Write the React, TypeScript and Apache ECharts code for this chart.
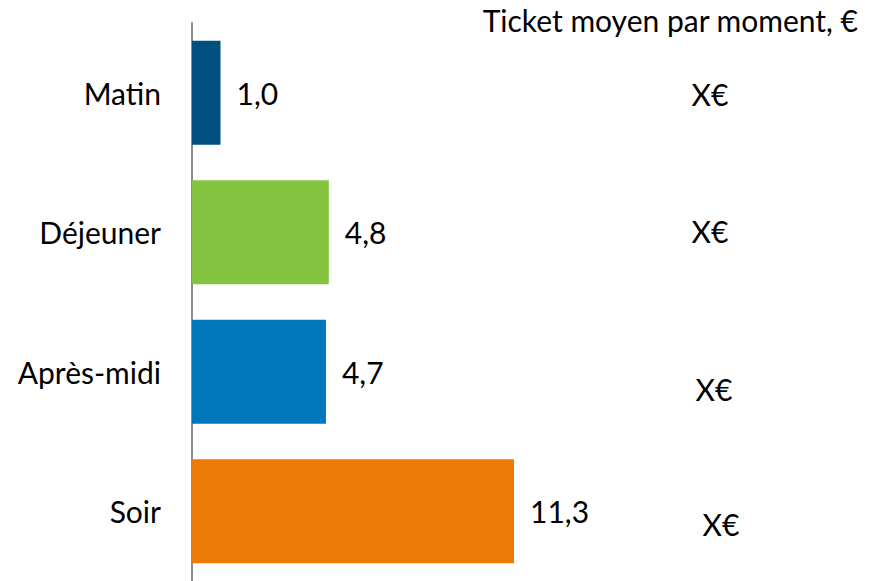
import React, { useEffect, useRef } from "react";
import * as echarts from "echarts";

const categories = ["Matin", "Déjeuner", "Après-midi", "Soir"];
const values = [1.0, 4.8, 4.7, 11.3];
const barColors = ["#00507F", "#85C440", "#0077BC", "#EC7A08"];
const ticketTitle = "Ticket moyen par moment, €";
const ticketLabels = ["X€", "X€", "X€", "X€"];

const FONT = "Lato, 'Open Sans', sans-serif";
const FS = 30;

export default function App() {
  const ref = useRef<HTMLDivElement>(null);
  useEffect(() => {
    if (!ref.current) return;
    const chart = echarts.init(ref.current, undefined, { renderer: "svg" });
    const ticketPos = [
      { x: 710, y: 94 },
      { x: 710, y: 231 },
      { x: 714, y: 389 },
      { x: 721, y: 524 },
    ];
    chart.setOption({
      animation: false,
      backgroundColor: "#ffffff",
      textStyle: { fontFamily: FONT },
      grid: { left: 192, width: 570, top: 23, height: 562, containLabel: false },
      xAxis: {
        type: "value",
        min: 0,
        max: 20,
        show: false,
      },
      yAxis: {
        type: "category",
        data: categories,
        inverse: true,
        axisLine: { show: true, lineStyle: { color: "#8c8c8c", width: 2 } },
        axisTick: { show: false },
        axisLabel: {
          color: "#000000",
          fontSize: FS,
          fontFamily: FONT,
          margin: 31,
        },
      },
      series: [
        {
          type: "bar",
          data: values.map((v, i) => ({ value: v, itemStyle: { color: barColors[i] } })),
          barWidth: 104,
          label: {
            show: true,
            position: "right",
            distance: 16,
            color: "#000000",
            fontSize: FS,
            fontFamily: FONT,
            formatter: (p: any) => Number(p.value).toFixed(1).replace(".", ","),
          },
        },
      ],
      graphic: [
        {
          type: "text",
          x: 858,
          y: 20,
          style: {
            text: ticketTitle,
            fill: "#000000",
            fontSize: FS,
            fontFamily: FONT,
            align: "right",
            verticalAlign: "middle",
          },
        },
        ...ticketLabels.map((t, i) => ({
          type: "text",
          x: ticketPos[i].x,
          y: ticketPos[i].y,
          style: {
            text: t,
            fill: "#000000",
            fontSize: FS,
            fontFamily: FONT,
            align: "center",
            verticalAlign: "middle",
          },
        })),
      ],
    });
    return () => chart.dispose();
  }, []);
  return (
    <div
      ref={ref}
      style={{ position: "fixed", left: 0, top: 0, width: 872, height: 581 }}
    />
  );
}
